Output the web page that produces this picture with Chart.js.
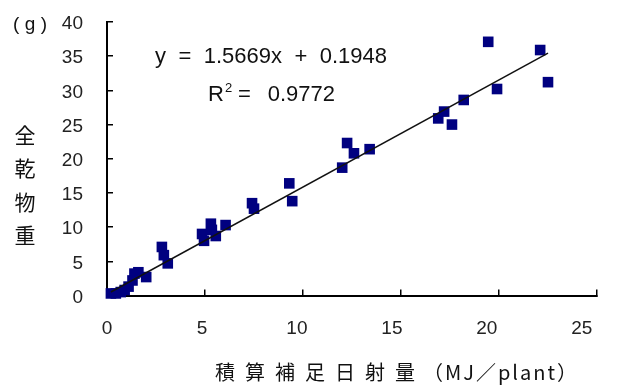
<!DOCTYPE html>
<html lang="ja">
<head>
<meta charset="utf-8">
<title>積算補足日射量と全乾物重</title>
<script src="https://cdn.jsdelivr.net/npm/chart.js@4/dist/chart.umd.min.js"></script>
<style>
  html, body { margin: 0; padding: 0; background: #fff; }
  #wrap { width: 620px; height: 387px; }
</style>
</head>
<body>
<div id="wrap"><canvas id="chart" width="620" height="387"></canvas></div>
<script>
// 積算補足日射量 (MJ/plant)
const radiation = [0.2, 0.45, 0.7, 0.9, 1.1, 1.3, 1.4, 1.6, 2.0,
  2.8, 2.9, 3.1, 4.85, 4.95, 5.3, 5.35, 5.55, 6.05, 7.4, 7.5, 9.3, 9.45,
  12.0, 12.25, 12.6, 13.4, 16.9, 17.2, 17.6, 18.2, 19.45, 19.9, 22.1, 22.5];
// 全乾物重 (g)
const dryMatter = [0.3, 0.3, 0.5, 0.8, 1.3, 2.2, 3.2, 3.4, 2.7,
  7.1, 5.9, 4.7, 9.0, 8.0, 10.5, 9.6, 8.7, 10.3, 13.5, 12.7, 16.4, 13.8,
  18.7, 22.3, 20.8, 21.4, 25.9, 26.9, 25.0, 28.6, 37.1, 30.2, 35.9, 31.2];

const xTickValues = [0, 5, 10, 15, 20, 25];
const yTickValues = [0, 5, 10, 15, 20, 25, 30, 35, 40];

// 線形回帰 y = a x + b
const slope = 1.5669;
const intercept = 0.1948;
const rSquared = 0.9772;

const xTitle = '積算補足日射量';
const xUnit = '（MJ／plant）';
const yTitle = '全乾物重';
const yUnit = '(g)';

const points = radiation.map((x, i) => ({ x, y: dryMatter[i] }));
const xMin = Math.min(...radiation);
const xMax = Math.max(...radiation);
const trend = [xMin, xMax].map(x => ({ x, y: slope * x + intercept }));

const tickFont = { family: '"Liberation Sans", Arial, sans-serif', size: 19 };
const tickColor = '#222';
const ink = '#111';
const latin = '"Liberation Sans", Arial, sans-serif';

// draws tokens spread evenly across a given width
function drawSpread(ctx, tokens, x, y, width) {
  const widths = tokens.map(t => ctx.measureText(t).width);
  const gap = (width - widths.reduce((s, w) => s + w, 0)) / (tokens.length - 1);
  ctx.textAlign = 'left';
  tokens.forEach((t, i) => { ctx.fillText(t, x, y); x += widths[i] + gap; });
}

// draws text one character at a time with extra tracking, returns the end x
function drawTracked(ctx, text, x, y, spacing) {
  ctx.textAlign = 'left';
  for (const ch of text) {
    ctx.fillText(ch, x, y);
    x += ctx.measureText(ch).width + spacing;
  }
  return x;
}

const chartText = {
  id: 'chartText',
  afterDraw(chart) {
    const { ctx, chartArea: a } = chart;
    ctx.save();
    ctx.fillStyle = ink;
    ctx.textBaseline = 'middle';

    // unit of the vertical axis
    ctx.font = '19px ' + latin;
    drawSpread(ctx, yUnit.split(''), a.left - 94, a.top + 3, 34);

    // vertical axis title, one character per line
    ctx.font = '21px "Noto Sans CJK JP", sans-serif';
    ctx.textAlign = 'center';
    [...yTitle].forEach((ch, i) => ctx.fillText(ch, a.left - 82, a.top + 113 + i * 33.3));

    // horizontal axis title
    ctx.font = '20px "Noto Sans CJK JP", sans-serif';
    const x = drawTracked(ctx, xTitle, a.left + 108, a.bottom + 77, 10);
    drawTracked(ctx, xUnit, x - 2, a.bottom + 77, 2);

    // regression equation
    ctx.font = '22px ' + latin;
    drawSpread(ctx, ['y', '=', slope.toFixed(4) + 'x', '+', intercept.toFixed(4)],
      a.left + 48, a.top + 35, 232);

    const ry = a.top + 73;
    const rx = a.left + 101;
    ctx.textAlign = 'left';
    ctx.fillText('R', rx, ry);
    const wR = ctx.measureText('R').width;
    ctx.font = '13px ' + latin;
    ctx.fillText('2', rx + wR + 1, ry - 7);
    ctx.font = '22px ' + latin;
    drawSpread(ctx, ['=', rSquared.toFixed(4)], rx + 30, ry, 97);

    ctx.restore();
  }
};

new Chart(document.getElementById('chart'), {
  type: 'scatter',
  data: {
    datasets: [
      {
        type: 'line',
        data: trend,
        borderColor: '#111',
        borderWidth: 1.5,
        pointRadius: 0,
        fill: false,
        tension: 0
      },
      {
        data: points,
        pointStyle: 'rect',
        pointRadius: 7.5,
        backgroundColor: '#000080',
        borderColor: '#000080',
        borderWidth: 0,
        clip: false
      }
    ]
  },
  options: {
    responsive: false,
    animation: false,
    events: [],
    layout: { padding: { top: 22, right: 23, bottom: 0, left: 0 } },
    plugins: { legend: { display: false }, tooltip: { enabled: false } },
    scales: {
      x: {
        type: 'linear',
        position: 'bottom',
        weight: 0,
        min: 0,
        max: 25,
        afterBuildTicks: s => { s.ticks = xTickValues.map(v => ({ value: v })); },
        afterFit: s => { s.height = 0; s.paddingLeft = 0; s.paddingRight = 0; },
        ticks: { display: false },
        grid: { drawOnChartArea: false, drawTicks: true, tickLength: -6, color: '#000', lineWidth: 1.5 },
        border: { display: true, color: '#000', width: 2 }
      },
      xLabels: {
        type: 'linear',
        position: 'bottom',
        weight: 1,
        min: 0,
        max: 25.8,
        afterBuildTicks: s => { s.ticks = xTickValues.map(v => ({ value: v })); },
        afterFit: s => { s.height = 91.5; s.paddingLeft = 0; s.paddingRight = 0; },
        grid: { display: false, drawTicks: false },
        border: { display: false },
        ticks: { font: tickFont, color: tickColor, padding: 22, maxRotation: 0, autoSkip: false }
      },
      y: {
        type: 'linear',
        position: 'left',
        min: 0,
        max: 40,
        afterBuildTicks: s => { s.ticks = yTickValues.map(v => ({ value: v })); },
        afterFit: s => { s.width = 107; s.paddingTop = 0; s.paddingBottom = 0; },
        ticks: { font: tickFont, color: tickColor, padding: 30, labelOffset: 2 },
        grid: { drawOnChartArea: false, drawTicks: true, tickLength: -6, color: '#000', lineWidth: 1.5 },
        border: { display: true, color: '#000', width: 2 }
      }
    }
  },
  plugins: [chartText]
});
</script>
</body>
</html>
